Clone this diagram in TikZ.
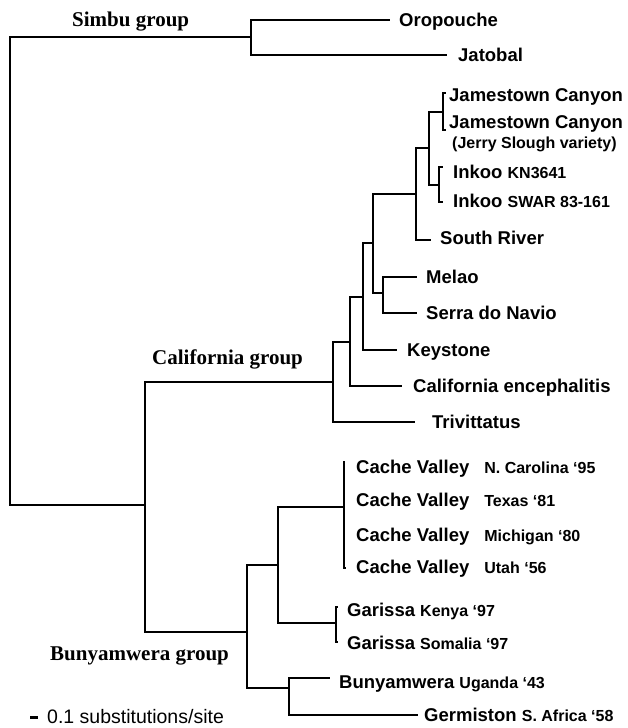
\documentclass[tikz,border=0pt]{standalone}
\usepackage{fontspec}
\setmainfont{Liberation Serif}
\setsansfont{Liberation Sans}
\newcommand\smtx[1]{{\fontsize{16}{18}\selectfont #1}}
\begin{document}
\begin{tikzpicture}[x=1pt,y=-1pt,
  br/.style={line width=2.2pt},
  tx/.style={anchor=base west, inner sep=0pt, font=\fontsize{18.5}{20}\selectfont\sffamily\bfseries},
  grp/.style={anchor=base west, inner sep=0pt, font=\fontsize{21}{24}\selectfont\rmfamily\bfseries},
  scl/.style={anchor=base west, inner sep=0pt, font=\fontsize{19.5}{22}\selectfont\sffamily}]
\useasboundingbox (0,0) rectangle (628,728);
% internal nodes
\coordinate (root) at (10,271);
\coordinate (simbu) at (251,37);
\coordinate (cb) at (145,505);
\coordinate (calif) at (333,382);
\coordinate (c1) at (350,342);
\coordinate (c2) at (363,297);
\coordinate (c3) at (373,243);
\coordinate (ms) at (383,293);
\coordinate (c4) at (416,194);
\coordinate (c5) at (429,148);
\coordinate (jc) at (443,112);
\coordinate (ink) at (439,185);
\coordinate (buny) at (247,632);
\coordinate (b1) at (278,565);
\coordinate (cv) at (344,507);
\coordinate (gar) at (336,623);
\coordinate (b2) at (289,688);
% tips
\coordinate (t-oro) at (390,20);
\coordinate (t-jat) at (447,55);
\coordinate (t-jc1) at (446,93);
\coordinate (t-jc2) at (446,130);
\coordinate (t-ink1) at (443,167);
\coordinate (t-ink2) at (443,202);
\coordinate (t-sr) at (431,240);
\coordinate (t-mel) at (417,277);
\coordinate (t-ser) at (417,313);
\coordinate (t-key) at (397,350);
\coordinate (t-ce) at (402,386);
\coordinate (t-tri) at (415,422);
\coordinate (t-cv1) at (344,461);
\coordinate (t-cv2) at (346,568);
\coordinate (t-gk) at (338,607);
\coordinate (t-gs) at (338,642);
\coordinate (t-bu) at (330,678);
\coordinate (t-ge) at (418,715);
% branches
\draw[br] (root) |- (simbu);
\draw[br] (root) |- (cb);
\draw[br] (simbu) |- (t-oro);
\draw[br] (simbu) |- (t-jat);
\draw[br] (cb) |- (calif);
\draw[br] (cb) |- (buny);
\draw[br] (calif) |- (c1);
\draw[br] (calif) |- (t-tri);
\draw[br] (c1) |- (c2);
\draw[br] (c1) |- (t-ce);
\draw[br] (c2) |- (c3);
\draw[br] (c2) |- (t-key);
\draw[br] (c3) |- (c4);
\draw[br] (c3) |- (ms);
\draw[br] (ms) |- (t-mel);
\draw[br] (ms) |- (t-ser);
\draw[br] (c4) |- (c5);
\draw[br] (c4) |- (t-sr);
\draw[br] (c5) |- (jc);
\draw[br] (c5) |- (ink);
\draw[br] (jc) |- (t-jc1);
\draw[br] (jc) |- (t-jc2);
\draw[br] (ink) |- (t-ink1);
\draw[br] (ink) |- (t-ink2);
\draw[br] (buny) |- (b1);
\draw[br] (buny) |- (b2);
\draw[br] (b1) |- (cv);
\draw[br] (b1) |- (gar);
\draw[br] (cv) |- (t-cv1);
\draw[br] (cv) |- (t-cv2);
\draw[br] (gar) |- (t-gk);
\draw[br] (gar) |- (t-gs);
\draw[br] (b2) |- (t-bu);
\draw[br] (b2) |- (t-ge);
% labels
\node[tx] (l-oro) at (399,26.5) {Oropouche};
\node[tx] (l-jat) at (458,61.5) {Jatobal};
\node[tx] (l-jc1) at (449,101.5) {Jamestown Canyon};
\node[tx] (l-jc2) at (449,128.5) {Jamestown Canyon};
\node[tx] (l-jc3) at (452,148) {\smtx{(Jerry Slough variety)}};
\node[tx] (l-ink1) at (453,178.5) {Inkoo \smtx{KN3641}};
\node[tx] (l-ink2) at (453,207.5) {Inkoo \smtx{SWAR 83-161}};
\node[tx] (l-sr) at (440,244.5) {South River};
\node[tx] (l-mel) at (426,283.5) {Melao};
\node[tx] (l-ser) at (426,319.5) {Serra do Navio};
\node[tx] (l-key) at (407,356.5) {Keystone};
\node[tx] (l-ce) at (413,392.5) {California encephalitis};
\node[tx] (l-tri) at (432,428.5) {Trivittatus};
\node[tx] (l-cv1) at (356,473.5) {Cache Valley\hspace{15pt}\smtx{N. Carolina ‘95}};
\node[tx] (l-cv2) at (356,506.5) {Cache Valley\hspace{15pt}\smtx{Texas ‘81}};
\node[tx] (l-cv3) at (356,541.5) {Cache Valley\hspace{15pt}\smtx{Michigan ‘80}};
\node[tx] (l-cv4) at (356,573.5) {Cache Valley\hspace{15pt}\smtx{Utah ‘56}};
\node[tx] (l-gk) at (347,616.5) {Garissa \smtx{Kenya ‘97}};
\node[tx] (l-gs) at (347,649.5) {Garissa \smtx{Somalia ‘97}};
\node[tx] (l-bu) at (339,688.5) {Bunyamwera \smtx{Uganda ‘43}};
\node[tx] (l-ge) at (424,721.5) {Germiston \smtx{S. Africa ‘58}};
% group labels
\node[grp] (g-simbu) at (72,27) {Simbu group};
\node[grp] (g-calif) at (152,364) {California group};
\node[grp] (g-buny) at (50,660) {Bunyamwera group};
% scale bar
\coordinate (sb1) at (30,717);
\coordinate (sb2) at (38,717);
\draw[line width=3pt] (sb1) -- (sb2);
\node[scl] (l-scale) at (47,723.5) {0.1 substitutions/site};
\end{tikzpicture}
\end{document}
